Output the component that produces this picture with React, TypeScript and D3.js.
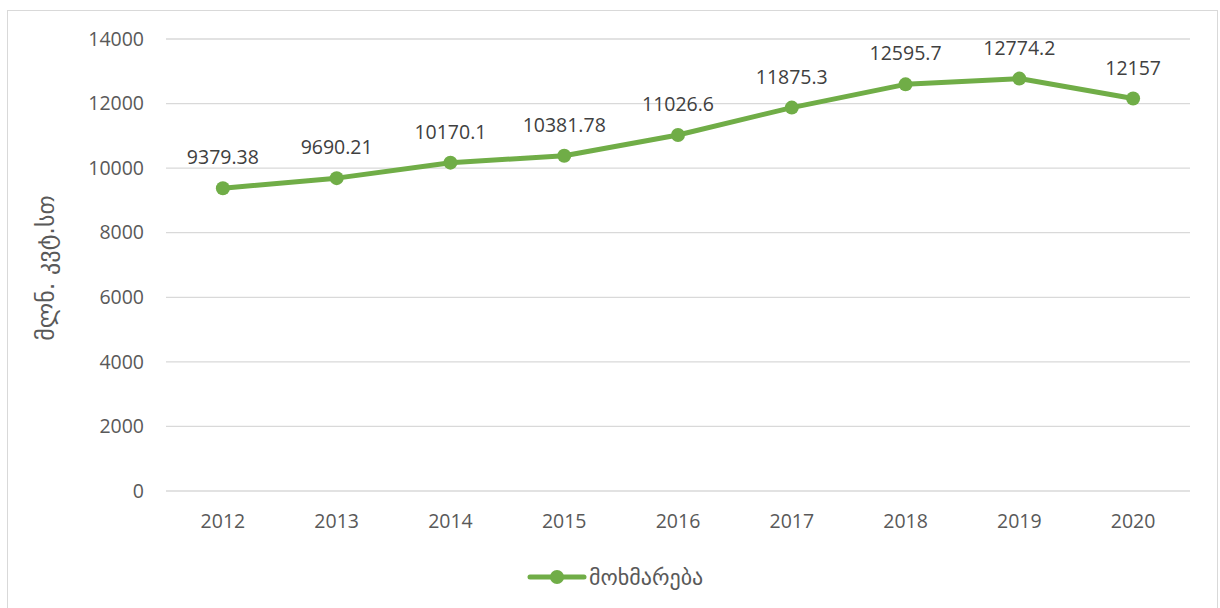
import React, { useRef, useEffect } from 'react';
import * as d3 from 'd3';

const years = ['2012', '2013', '2014', '2015', '2016', '2017', '2018', '2019', '2020'];
const consumption = [9379.38, 9690.21, 10170.1, 10381.78, 11026.6, 11875.3, 12595.7, 12774.2, 12157];
const valueLabels = ['9379.38', '9690.21', '10170.1', '10381.78', '11026.6', '11875.3', '12595.7', '12774.2', '12157'];
const yTicks = [0, 2000, 4000, 6000, 8000, 10000, 12000, 14000];
const seriesName = 'მოხმარება';
const yTitle = 'მლნ. კვტ.სთ';

const GREEN = '#70ad47';
const TEXT = '#595959';
const FONT = '"Open Sans", "DejaVu Sans", sans-serif';

function App() {
  const ref = useRef<SVGSVGElement>(null);

  useEffect(() => {
    const W = 1220;
    const H = 608;
    const margin = { top: 39, right: 30, bottom: 117, left: 166 };
    const width = W - margin.left - margin.right;
    const height = H - margin.top - margin.bottom;

    const root = d3.select(ref.current);
    root.selectAll('*').remove();
    root.attr('width', W).attr('height', H);

    root.append('rect')
      .attr('x', 7.5).attr('y', 10.5)
      .attr('width', 1210).attr('height', 610)
      .attr('fill', 'white').attr('stroke', '#d9d9d9');

    const svg = root.append('g').attr('transform', `translate(${margin.left},${margin.top})`);

    const x = d3.scaleBand().domain(years).range([0, width]);
    const y = d3.scaleLinear().domain([0, 14000]).range([height, 0]);

    // gridlines
    svg.append('g')
      .selectAll('line')
      .data(yTicks)
      .enter().append('line')
      .attr('x1', 0).attr('x2', width)
      .attr('y1', d => y(d)).attr('y2', d => y(d))
      .attr('stroke', '#d9d9d9').attr('stroke-width', 1.3);

    const yAxis = svg.append('g').call(
      d3.axisLeft(y).tickValues(yTicks).tickFormat(d3.format('d')).tickSize(0).tickPadding(22)
    );
    yAxis.select('.domain').remove();
    yAxis.selectAll('text').attr('fill', TEXT).style('font-size', '19.5px').style('font-family', FONT);

    const xAxis = svg.append('g')
      .attr('transform', `translate(0,${height})`)
      .call(d3.axisBottom(x).tickSize(0).tickPadding(23));
    xAxis.select('.domain').remove();
    xAxis.selectAll('text').attr('fill', TEXT).style('font-size', '19.5px').style('font-family', FONT);

    const line = d3.line<number>()
      .x((d, i) => (x(years[i]) as number) + x.bandwidth() / 2)
      .y(d => y(d));

    svg.append('path')
      .datum(consumption)
      .attr('fill', 'none')
      .attr('stroke', GREEN)
      .attr('stroke-width', 5)
      .attr('stroke-linejoin', 'round')
      .attr('stroke-linecap', 'round')
      .attr('d', line);

    svg.selectAll('.dot')
      .data(consumption)
      .enter().append('circle')
      .attr('cx', (d, i) => (x(years[i]) as number) + x.bandwidth() / 2)
      .attr('cy', d => y(d))
      .attr('r', 7)
      .attr('fill', GREEN);

    svg.selectAll('.lbl')
      .data(consumption)
      .enter().append('text')
      .attr('x', (d, i) => (x(years[i]) as number) + x.bandwidth() / 2)
      .attr('y', d => y(d) - 24)
      .attr('text-anchor', 'middle')
      .attr('fill', '#404040')
      .style('font-size', '19.5px')
      .style('font-family', FONT)
      .text((d, i) => valueLabels[i]);

    // y title
    root.append('text')
      .attr('transform', 'translate(54,268) rotate(-90)')
      .attr('text-anchor', 'middle')
      .attr('fill', TEXT)
      .style('font-size', '24px')
      .style('font-family', '"DejaVu Sans", sans-serif')
      .text(yTitle);

    // legend
    const legend = root.append('g').attr('transform', 'translate(530,577)');
    legend.append('line')
      .attr('x1', 0).attr('x2', 54).attr('y1', 0).attr('y2', 0)
      .attr('stroke', GREEN).attr('stroke-width', 5).attr('stroke-linecap', 'round');
    legend.append('circle').attr('cx', 27).attr('cy', 0).attr('r', 7).attr('fill', GREEN);
    legend.append('text')
      .attr('x', 59).attr('y', 8)
      .attr('fill', TEXT)
      .style('font-size', '22px')
      .style('font-family', '"DejaVu Sans", sans-serif')
      .text(seriesName);
  }, []);

  return (
    <div style={{ position: 'absolute', left: 0, top: 0 }}>
      <svg ref={ref}></svg>
    </div>
  );
}

export default App;
